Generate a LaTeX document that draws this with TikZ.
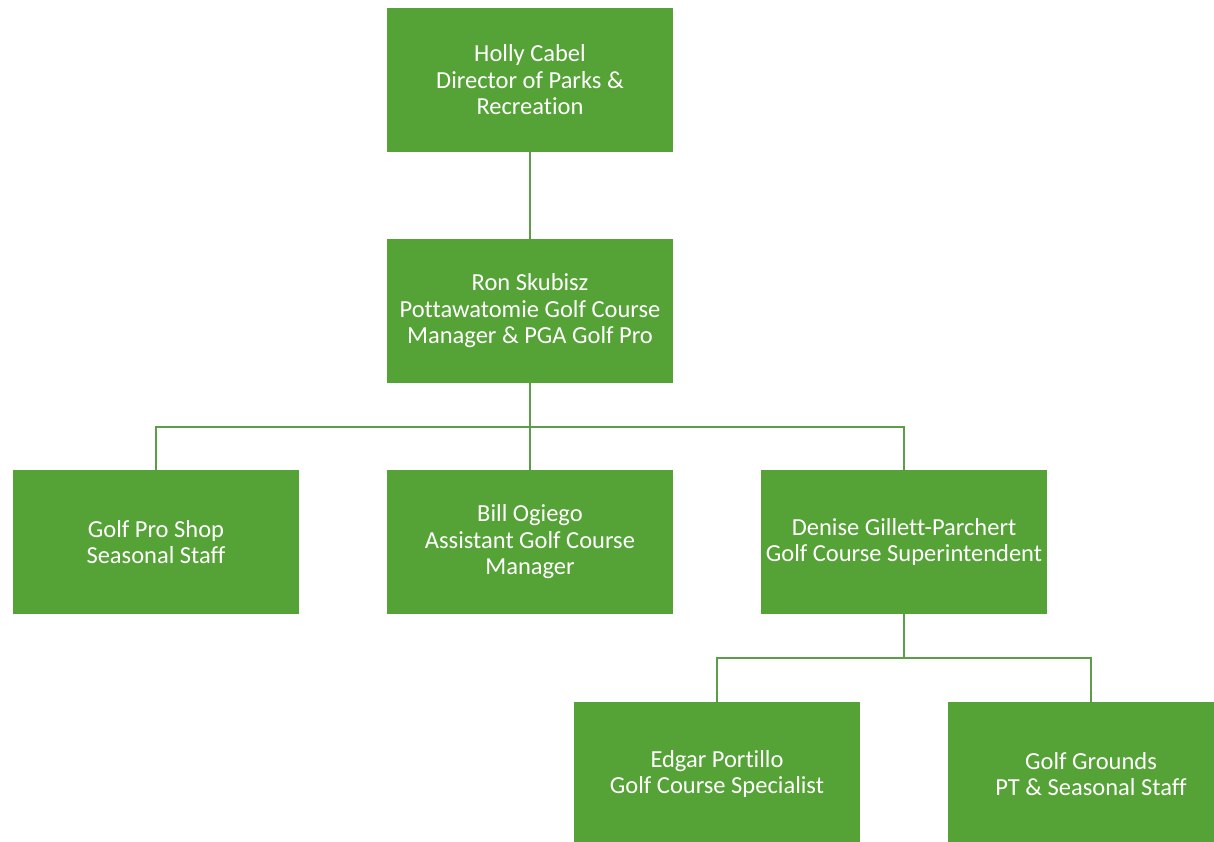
\documentclass[tikz,border=0pt]{standalone}
\usepackage{fontspec}
\setmainfont[Ligatures=NoCommon]{Carlito}
\usepackage{xcolor}
\usetikzlibrary{positioning}
\definecolor{boxgreen}{HTML}{55A237}
\definecolor{linegreen}{HTML}{5C9E47}

\begin{document}
\begin{tikzpicture}[
x=1pt, y=-1pt,
OrgBox/.style={fill=boxgreen,draw=none,minimum width=286pt,minimum height=144pt,
  text=white,align=center,inner sep=0pt,font=\fontsize{24.5}{26.5}\selectfont},
Links/.style={draw=linegreen,line width=1.6pt}
]
\useasboundingbox (0,0) rectangle (1214,842);
\clip (0,0) rectangle (1214,842);

% top of the tree
\node[OrgBox] (holly) at (530,80) {Holly Cabel\\Director of Parks \&\\Recreation};
\node[OrgBox] (ron) at (530,311) {Ron Skubisz\\Pottawatomie Golf Course\\Manager \& PGA Golf Pro};

% second level
\node[OrgBox] (shop) at (156,542) {Golf Pro Shop\\Seasonal Staff};
\node[OrgBox] (bill) at (530,542) {Bill Ogiego\\Assistant Golf Course\\Manager};
\node[OrgBox] (denise) at (904,542) {Denise Gillett-Parchert\\Golf Course Superintendent};

% grounds crew
\node[OrgBox] (edgar) at (717,774) {Edgar Portillo\\Golf Course Specialist};
\node[OrgBox] (grounds) at (1091,774) {Golf Grounds\\PT \& Seasonal Staff};

\coordinate (busA) at (530,427);
\coordinate (busB) at (904,658);

\draw[Links] (holly.south)--(ron.north);
\draw[Links] (ron.south)--(busA);
\draw[Links] (busA) -| (shop.north);
\draw[Links] (busA)--(bill.north);
\draw[Links] (busA) -| (denise.north);

\draw[Links] (denise.south)--(busB);
\draw[Links] (busB) -| (edgar.north);
\draw[Links] (busB) -| (grounds.north);

\end{tikzpicture}
\end{document}
